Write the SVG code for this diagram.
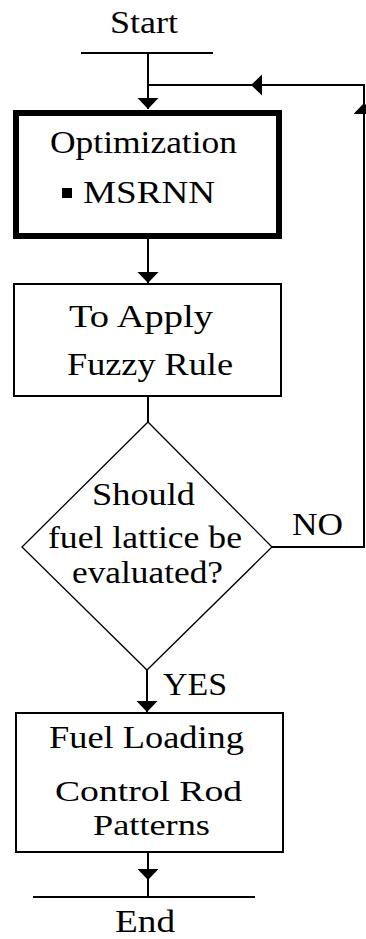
<svg xmlns="http://www.w3.org/2000/svg" width="366" height="939" viewBox="0 0 366 939">
<style>
text{font-family:"Times New Roman","Liberation Serif","DejaVu Serif",Times,serif;font-size:32px;fill:#000;text-anchor:middle}
.sm{font-size:30px}
.box{fill:#fff;stroke:#000;stroke-width:2}
.thick{fill:#fff;stroke:#000;stroke-width:6}
.dia{fill:#fff;stroke:#000;stroke-width:1.3}
.c{fill:none;stroke:#000;stroke-width:2}
.a{marker-end:url(#ah)}
</style>
<defs>
<marker id="ah" markerUnits="userSpaceOnUse" markerWidth="12" markerHeight="22" refX="11" refY="10.5" orient="auto" viewBox="0 0 12 22">
<path d="M0,0 L11,10.5 L0,21 Z" fill="#000"/>
</marker>
</defs>
<g id="connectors">
<path class="c" d="M81,53 H213"/>
<path class="c a" d="M148,53 V109"/>
<path class="c" d="M272,547 H364 V85 H148"/>
<path class="c a" d="M364,125 V103"/>
<path class="c a" d="M275,85 H251"/>
<path class="c a" d="M148,239 V283"/>
<path class="c" d="M148,396 V422"/>
<path class="c a" d="M147,670 V712"/>
<path class="c" d="M148,852 V897"/>
<path class="c a" d="M148,860 V880"/>
<path class="c" d="M33,897 H255"/>
</g>
<g id="start"><text x="144" y="33" textLength="68" lengthAdjust="spacingAndGlyphs">Start</text></g>
<g id="optimization">
<rect class="thick" x="16" y="113" width="263" height="123"/>
<text x="143.5" y="153" textLength="187" lengthAdjust="spacingAndGlyphs">Optimization</text>
<rect x="62" y="188" width="10" height="10" fill="#000"/>
<text x="149" y="203" textLength="132" lengthAdjust="spacingAndGlyphs">MSRNN</text>
</g>
<g id="fuzzy">
<rect class="box" x="14" y="284" width="267" height="112"/>
<text x="141" y="327" textLength="144" lengthAdjust="spacingAndGlyphs">To Apply</text>
<text x="150" y="375" textLength="166" lengthAdjust="spacingAndGlyphs">Fuzzy Rule</text>
</g>
<g id="decision">
<polygon class="dia" points="148,422 272,547 147,670 22,547"/>
<text x="143.5" y="505" textLength="103" lengthAdjust="spacingAndGlyphs">Should</text>
<text x="145" y="548" textLength="194" lengthAdjust="spacingAndGlyphs">fuel lattice be</text>
<text x="147.5" y="583" textLength="151" lengthAdjust="spacingAndGlyphs">evaluated?</text>
</g>
<g id="labels">
<text x="317.5" y="535" textLength="51" lengthAdjust="spacingAndGlyphs">NO</text>
<text x="195" y="695" textLength="64" lengthAdjust="spacingAndGlyphs">YES</text>
</g>
<g id="fuel">
<rect class="box" x="16" y="713" width="267" height="139"/>
<text x="146.5" y="748" textLength="195" lengthAdjust="spacingAndGlyphs">Fuel Loading</text>
<text class="sm" x="148.5" y="801" textLength="187" lengthAdjust="spacingAndGlyphs">Control Rod</text>
<text class="sm" x="151.5" y="835" textLength="117" lengthAdjust="spacingAndGlyphs">Patterns</text>
</g>
<g id="end"><text x="145" y="932" textLength="60" lengthAdjust="spacingAndGlyphs">End</text></g>
</svg>
